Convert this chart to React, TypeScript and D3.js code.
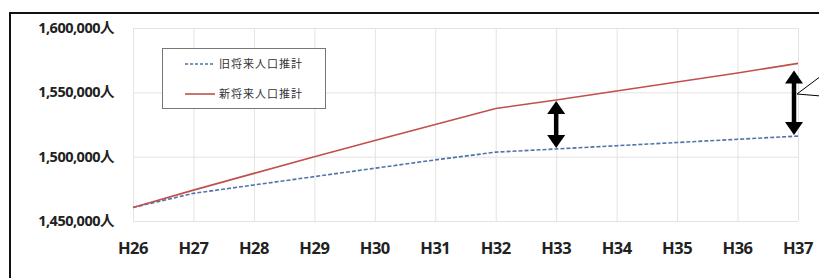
import React, { useEffect, useRef } from "react";
import * as d3 from "d3";

const years = ["H26", "H27", "H28", "H29", "H30", "H31", "H32", "H33", "H34", "H35", "H36", "H37"];
const oldValues = [1460500, 1471500, 1478000, 1484500, 1491000, 1497500, 1503500, 1506000, 1508500, 1511000, 1513500, 1516000];
const newValues = [1460500, 1474000, 1487000, 1500000, 1512500, 1525000, 1537500, 1544000, 1551000, 1558000, 1565000, 1572500];
const yTicks = [1450000, 1500000, 1550000, 1600000];
const seriesNames = ["旧将来人口推計", "新将来人口推計"];
const arrowYears = ["H33", "H37"];

const App: React.FC = () => {
  const svgRef = useRef<SVGSVGElement>(null);
  const width = 819;
  const height = 278;

  useEffect(() => {
    const svg = d3.select(svgRef.current);
    svg.selectAll("*").remove();

    const x = d3.scalePoint<string>().domain(years).range([133, 798]);
    const y = d3.scaleLinear().domain([1450000, 1600000]).range([221, 28]);

    svg.append("rect").attr("width", width).attr("height", height).attr("fill", "#fff");

    // outer frame (runs past right / bottom edge)
    svg.append("path")
      .attr("d", `M10,${height + 5} L10,13 L${width + 5},13`)
      .attr("fill", "none")
      .attr("stroke", "#111")
      .attr("stroke-width", 2);

    // grid
    const grid = svg.append("g").attr("stroke", "#e3e3e3").attr("stroke-width", 1);
    grid.selectAll("line.h")
      .data(yTicks)
      .enter()
      .append("line")
      .attr("x1", 133)
      .attr("x2", 798)
      .attr("y1", (d) => y(d) + 0.5)
      .attr("y2", (d) => y(d) + 0.5);
    grid.selectAll("line.v")
      .data(years)
      .enter()
      .append("line")
      .attr("x1", (d) => x(d)! + 0.5)
      .attr("x2", (d) => x(d)! + 0.5)
      .attr("y1", y(1600000))
      .attr("y2", y(1450000));

    // y labels
    const fmt = d3.format(",");
    svg.append("g")
      .selectAll("text")
      .data(yTicks)
      .enter()
      .append("text")
      .attr("x", 114)
      .attr("y", (d) => y(d))
      .attr("dy", "0.35em")
      .attr("text-anchor", "end")
      .attr("font-family", "'Open Sans', 'Noto Sans CJK JP', sans-serif")
      .attr("font-weight", 700)
      .attr("font-size", 14.5)
      .attr("letter-spacing", -0.5)
      .attr("fill", "#222")
      .text((d) => fmt(d) + "人");

    // x labels
    svg.append("g")
      .selectAll("text")
      .data(years)
      .enter()
      .append("text")
      .attr("x", (d) => x(d)!)
      .attr("y", 248)
      .attr("dy", "0.35em")
      .attr("text-anchor", "middle")
      .attr("font-family", "'Open Sans', sans-serif")
      .attr("font-weight", 700)
      .attr("font-size", 16.5)
      .attr("letter-spacing", -0.5)
      .attr("fill", "#222")
      .text((d) => d);

    const line = d3.line<number>()
      .x((_, i) => x(years[i])!)
      .y((d) => y(d));

    svg.append("path")
      .datum(oldValues)
      .attr("d", line)
      .attr("fill", "none")
      .attr("stroke", "#4f74a8")
      .attr("stroke-width", 1.6)
      .attr("stroke-dasharray", "4,2");

    svg.append("path")
      .datum(newValues)
      .attr("d", line)
      .attr("fill", "none")
      .attr("stroke", "#c0504d")
      .attr("stroke-width", 1.6);

    // double arrows
    const drawArrow = (ax: number, y1: number, y2: number) => {
      const g = svg.append("g").attr("fill", "#000");
      const head = 13;
      const hw = 9;
      g.append("line")
        .attr("x1", ax).attr("x2", ax)
        .attr("y1", y1 + head - 1).attr("y2", y2 - head + 1)
        .attr("stroke", "#000").attr("stroke-width", 4.5);
      g.append("path").attr("d", `M${ax},${y1} L${ax - hw},${y1 + head} L${ax + hw},${y1 + head} Z`);
      g.append("path").attr("d", `M${ax},${y2} L${ax - hw},${y2 - head} L${ax + hw},${y2 - head} Z`);
    };
    arrowYears.forEach((yr, k) => {
      const i = years.indexOf(yr);
      const ax = x(yr)! - (k === 1 ? 4 : 0);
      drawArrow(ax, y(newValues[i]) + (k === 1 ? 7 : 1), y(oldValues[i]) - 1);
    });

    // callout lines at the right edge
    const cx = x("H37")! - 1;
    const cy = 94;
    svg.append("path")
      .attr("d", `M${width + 2},${cy - 18} L${cx},${cy} L${width + 2},${cy + 2}`)
      .attr("fill", "none")
      .attr("stroke", "#000")
      .attr("stroke-width", 1);

    // legend
    const lg = svg.append("g").attr("transform", "translate(162,48)");
    lg.append("rect")
      .attr("x", 0.5).attr("y", 0.5)
      .attr("width", 163).attr("height", 60)
      .attr("fill", "#fff")
      .attr("stroke", "#777")
      .attr("stroke-width", 1);
    seriesNames.forEach((name, i) => {
      const ly = 16 + i * 30;
      lg.append("line")
        .attr("x1", 23).attr("x2", 53)
        .attr("y1", ly).attr("y2", ly)
        .attr("stroke", i === 0 ? "#4f74a8" : "#c0504d")
        .attr("stroke-width", 1.6)
        .attr("stroke-dasharray", i === 0 ? "3,2" : null);
      lg.append("text")
        .attr("x", 57)
        .attr("y", ly)
        .attr("dy", "0.35em")
        .attr("font-family", "'Noto Sans CJK JP', sans-serif")
        .attr("font-size", 11)
        .attr("letter-spacing", 1)
        .attr("fill", "#333")
        .text(name);
    });
  }, []);

  return (
    <svg
      ref={svgRef}
      width={width}
      height={height}
      viewBox={`0 0 ${width} ${height}`}
      style={{ position: "absolute", left: 0, top: 0, display: "block" }}
    ></svg>
  );
};

export default App;
